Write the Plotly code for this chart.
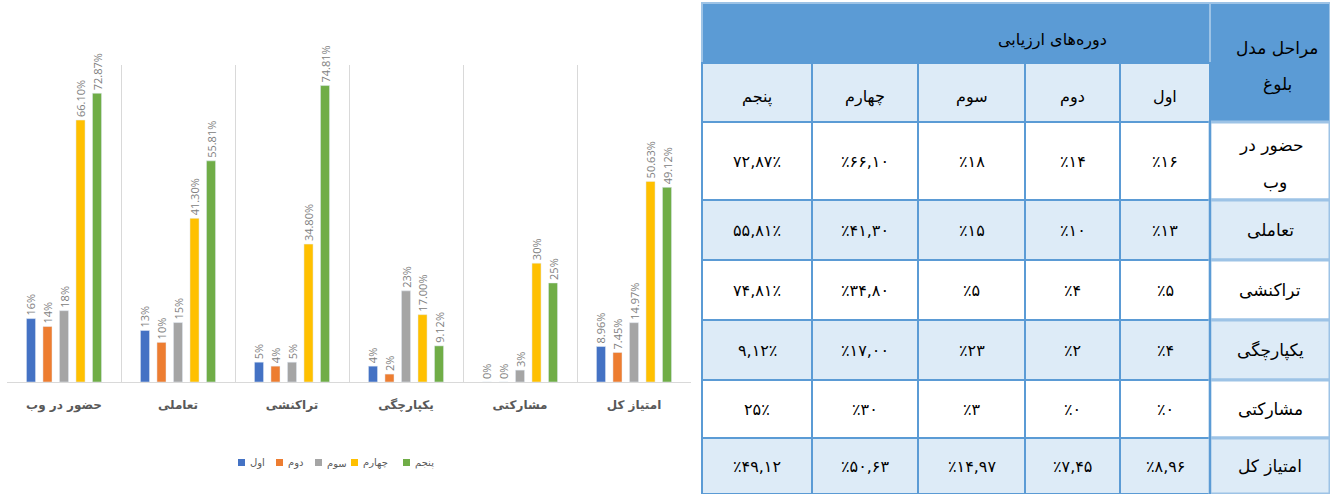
import plotly.graph_objects as go

W, H = 1330, 494

# ---------------- data ----------------
categories = ["حضور در وب", "تعاملی", "تراکنشی", "یکپارچگی", "مشارکتی", "امتیاز کل"]
series_names = ["اول", "دوم", "سوم", "چهارم", "پنجم"]
series_colors = ["#4472C4", "#ED7D31", "#A5A5A5", "#FFC000", "#70AD47"]

val_aval = [16, 13, 5, 4, 0, 8.96]
val_dovom = [14, 10, 4, 2, 0, 7.45]
val_sevom = [18, 15, 5, 23, 3, 14.97]
val_chaharom = [66.10, 41.30, 34.80, 17.00, 30, 50.63]
val_panjom = [72.87, 55.81, 74.81, 9.12, 25, 49.12]

lbl_aval = ["16%", "13%", "5%", "4%", "0%", "8.96%"]
lbl_dovom = ["14%", "10%", "4%", "2%", "0%", "7.45%"]
lbl_sevom = ["18%", "15%", "5%", "23%", "3%", "14.97%"]
lbl_chaharom = ["66.10%", "41.30%", "34.80%", "17.00%", "30%", "50.63%"]
lbl_panjom = ["72.87%", "55.81%", "74.81%", "9.12%", "25%", "49.12%"]

values = [val_aval, val_dovom, val_sevom, val_chaharom, val_panjom]
labels = [lbl_aval, lbl_dovom, lbl_sevom, lbl_chaharom, lbl_panjom]

# table texts
table_title = "دوره‌های ارزیابی"
table_corner = ["مراحل مدل", "بلوغ"]
table_cols = ["پنجم", "چهارم", "سوم", "دوم", "اول"]  # visual order left -> right
table_row_labels = [["حضور در", "وب"], ["تعاملی"], ["تراکنشی"], ["یکپارچگی"], ["مشارکتی"], ["امتیاز کل"]]
col_panjom = ["۷۲,۸۷٪", "۵۵,۸۱٪", "۷۴,۸۱٪", "۹,۱۲٪", "۲۵٪", "٪۴۹,۱۲"]
col_chaharom = ["٪۶۶,۱۰", "٪۴۱,۳۰", "٪۳۴,۸۰", "٪۱۷,۰۰", "٪۳۰", "٪۵۰,۶۳"]
col_sevom = ["٪۱۸", "٪۱۵", "٪۵", "٪۲۳", "٪۳", "٪۱۴,۹۷"]
col_dovom = ["٪۱۴", "٪۱۰", "٪۴", "٪۲", "٪۰", "٪۷,۴۵"]
col_aval = ["٪۱۶", "٪۱۳", "٪۵", "٪۴", "٪۰", "٪۸,۹۶"]
table_cells = [col_panjom, col_chaharom, col_sevom, col_dovom, col_aval]

# ---------------- chart ----------------
fig = go.Figure()
for name, vals, lbls, col in zip(series_names, values, labels, series_colors):
    fig.add_trace(go.Bar(
        x=categories, y=vals, name=name, marker_color=col,
        text=lbls, textposition="outside", textangle=-90,
        textfont=dict(size=11, color="#808080", family="Open Sans"),
        constraintext="none", cliponaxis=False, showlegend=False,
    ))


def px(x):
    return x / W


def py(y):
    return 1 - y / H


fig.update_layout(
    width=W, height=H,
    margin=dict(l=0, r=0, t=0, b=0),
    paper_bgcolor="white", plot_bgcolor="white",
    barmode="group", bargap=0.276, bargroupgap=0.45,
    showlegend=False,
    xaxis=dict(domain=[px(7), px(691)], range=[-0.5, 5.5], tickson="boundaries",
               showgrid=True, gridcolor="#D9D9D9", gridwidth=1,
               showline=True, linecolor="#D9D9D9", linewidth=1,
               ticks="", ticklabelstandoff=12,
               tickfont=dict(size=12, color="#595959", family="DejaVu Sans", weight="bold"),
               fixedrange=True),
    yaxis=dict(domain=[1 - 382 / H, 1 - 65 / H], range=[0, 80],
               showgrid=False, zeroline=False, showticklabels=False, fixedrange=True),
)

shapes = []
annots = []


def rect(x0, y0, x1, y1, fill, line="#5B9BD5", lw=2):
    shapes.append(dict(type="rect", xref="paper", yref="paper",
                       x0=px(x0), x1=px(x1), y0=py(y1), y1=py(y0),
                       fillcolor=fill, line=dict(color=line, width=lw), layer="above"))


def text(x, y, s, size=17, color="black", anchor="center"):
    annots.append(dict(xref="paper", yref="paper", x=px(x), y=py(y), text=s,
                       showarrow=False, xanchor=anchor, yanchor="middle",
                       font=dict(size=size, color=color, family="DejaVu Sans")))


# ---------------- compact legend (Excel style) ----------------
legend_x = [238, 276, 315, 351, 403]
for lx, name, col in zip(legend_x, series_names, series_colors):
    rect(lx, 459, lx + 7, 466, col, line=col, lw=0)
    text(lx + 10, 463, name, size=10, color="#595959", anchor="left")

# ---------------- table ----------------
BLUE = "#5B9BD5"
LIGHT = "#DDEBF7"
PALE = "#9DC3E6"
cx = [702, 812, 918, 1025, 1120, 1210, 1330]
ry = [122, 200, 260, 320, 380, 438, 494]

# header
rect(cx[0], 3, cx[5], 63, BLUE, line=PALE)
rect(cx[5], 3, cx[6], 122, BLUE, line=PALE)
text(1052, 40, table_title, size=16)
text(1277, 48, table_corner[0], size=17)
text(1277, 84, table_corner[1], size=17)
for i, name in enumerate(table_cols):
    rect(cx[i], 63, cx[i + 1], 122, LIGHT)
    text((cx[i] + cx[i + 1]) / 2, 97, name, size=16)

# body
for r, lab in enumerate(table_row_labels):
    fill = LIGHT if r % 2 == 1 else "white"
    y0, y1 = ry[r], ry[r + 1]
    for c in range(5):
        rect(cx[c], y0, cx[c + 1], y1, fill)
        text((cx[c] + cx[c + 1]) / 2, (y0 + y1) / 2, table_cells[c][r], size=16)
    rect(cx[5], y0, cx[6], y1, fill, line=PALE, lw=3)
    if len(lab) == 2:
        text(1271, 145, lab[0], size=17)
        text(1275, 182, lab[1], size=17)
    else:
        text(1270, (y0 + y1) / 2, lab[0], size=17)

# vertical separator between labels and data
shapes.append(dict(type="line", xref="paper", yref="paper", x0=px(1210), x1=px(1210),
                   y0=py(494), y1=py(63), line=dict(color=BLUE, width=2), layer="above"))

fig.update_layout(shapes=shapes, annotations=annots)

fig.write_html("out.html", include_plotlyjs=True, config={"displayModeBar": False},
               post_script="document.body.style.margin='0';document.body.style.overflow='hidden';")
